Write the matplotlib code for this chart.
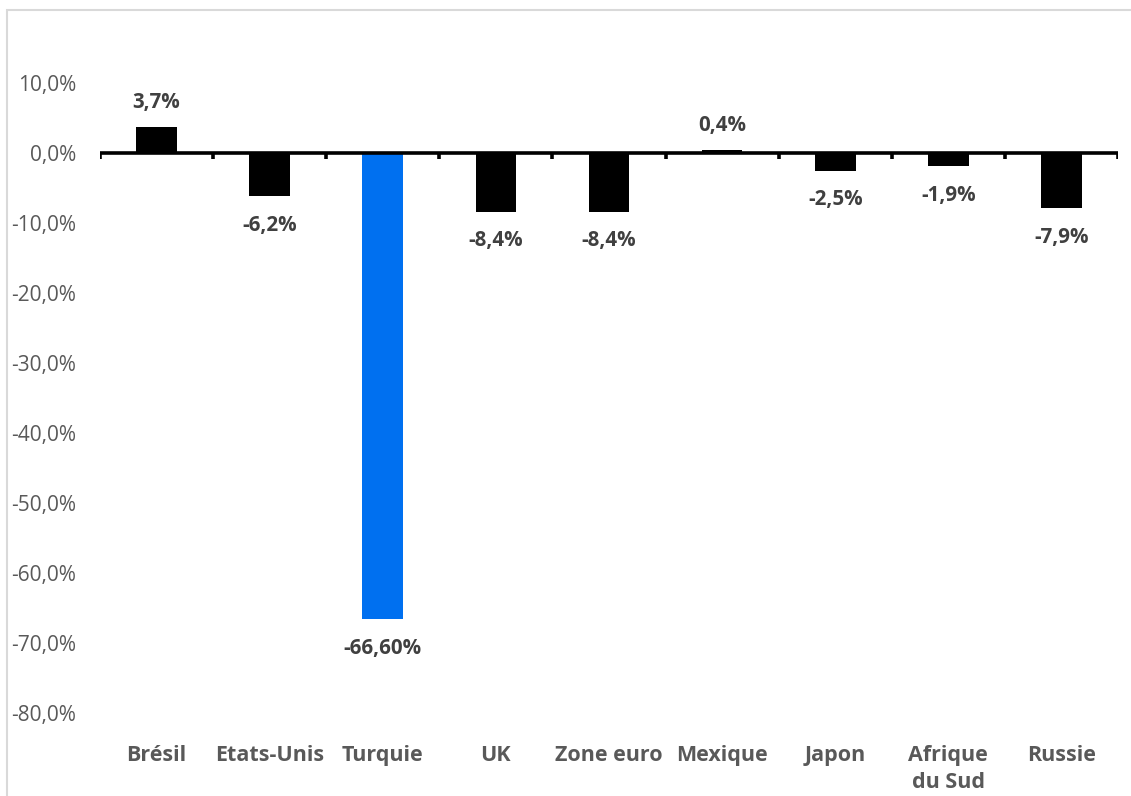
import matplotlib
matplotlib.use("Agg")
import matplotlib.pyplot as plt
from matplotlib.patches import Rectangle
import numpy as np

categories = ["Brésil", "Etats-Unis", "Turquie", "UK", "Zone euro", "Mexique", "Japon", "Afrique\ndu Sud", "Russie"]
values = [3.7, -6.2, -66.6, -8.4, -8.4, 0.4, -2.5, -1.9, -7.9]
labels = ["3,7%", "-6,2%", "-66,60%", "-8,4%", "-8,4%", "0,4%", "-2,5%", "-1,9%", "-7,9%"]
colors = ["#000000", "#000000", "#0070F0", "#000000", "#000000", "#000000", "#000000", "#000000", "#000000"]
yticks = [10, 0, -10, -20, -30, -40, -50, -60, -70, -80]

plt.rcParams['font.family'] = ['Open Sans', 'DejaVu Sans']

fig = plt.figure(figsize=(11.31, 7.96), dpi=100)
ax = fig.add_axes([100/1131, 1-713/796, 1018/1131, 700/796])

x = np.arange(len(categories))
ax.bar(x, values, width=0.36, color=colors, zorder=2)

ax.set_xlim(-0.5, len(categories) - 0.5)
ax.set_ylim(-80, 20)

for xi, v, lab in zip(x, values, labels):
    if v >= 0:
        ax.annotate(lab, (xi, v), xytext=(0, 18), textcoords='offset points',
                    ha='center', va='center', fontsize=14.8, fontweight='bold', color='#404040')
    else:
        ax.annotate(lab, (xi, v), xytext=(0, -21), textcoords='offset points',
                    ha='center', va='center', fontsize=14.8, fontweight='bold', color='#404040')

# zero line with ticks between categories
ax.axhline(0, color='black', lw=2.6, zorder=3)
for b in np.arange(-0.5, len(categories), 1.0):
    ax.plot([b, b], [0, -0.9], color='black', lw=2.6, zorder=3, solid_capstyle='butt')

for s in ax.spines.values():
    s.set_visible(False)

ax.set_yticks(yticks)
ax.set_yticklabels([f"{t:.1f}".replace('.', ',') + "%" for t in yticks])
ax.tick_params(axis='y', length=0, pad=17, labelsize=15, labelcolor='#595959')
ax.set_xticks(x)
ax.set_xticklabels(categories, fontweight='bold', fontsize=15.5, color='#595959', va='top', linespacing=1.35)
ax.tick_params(axis='x', length=0, pad=23)
ax.patch.set_alpha(0)

fig.patches.append(Rectangle((7/1131, -0.1), 1.2, 1-10/796 + 0.1, transform=fig.transFigure,
                             fill=False, edgecolor='#D9D9D9', lw=1.5, zorder=0))

fig.savefig("out.png", dpi=100)
